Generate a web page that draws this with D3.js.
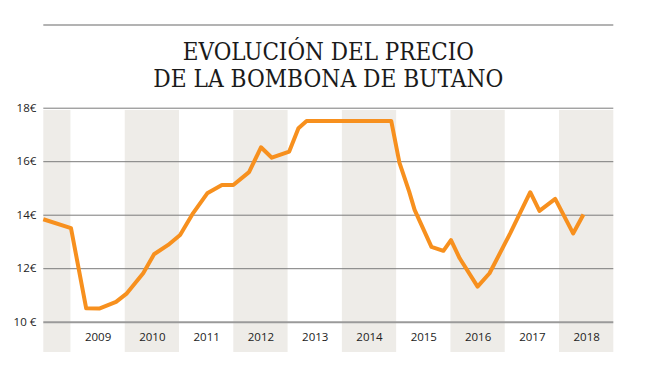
<!DOCTYPE html>
<html><head><meta charset="utf-8">
<script src="https://cdn.jsdelivr.net/npm/d3@7"></script>
<style>
html,body{margin:0;padding:0;background:#fff;}
svg{display:block;}
</style></head>
<body>
<svg id="c" width="650" height="379"></svg>
<script>
// ---- data ----
const titleLines = ["EVOLUCIÓN DEL PRECIO", "DE LA BOMBONA DE BUTANO"];
const fecha = [2008.5, 2009.01, 2009.29, 2009.53, 2009.84, 2010.04, 2010.34, 2010.54, 2010.80, 2011.02,
  2011.26, 2011.52, 2011.79, 2012.0, 2012.29, 2012.51, 2012.71, 2013.03, 2013.20, 2013.35,
  2014.91, 2015.06, 2015.24, 2015.34, 2015.65, 2015.87, 2016.01, 2016.17, 2016.50, 2016.72,
  2017.10, 2017.47, 2017.64, 2017.93, 2018.26, 2018.45];
const precio = [13.83, 13.5, 10.5, 10.49, 10.74, 11.06, 11.81, 12.52, 12.87, 13.24,
  14.06, 14.8, 15.11, 15.11, 15.59, 16.52, 16.13, 16.36, 17.23, 17.5,
  17.5, 15.95, 14.86, 14.18, 12.8, 12.65, 13.05, 12.37, 11.31, 11.81,
  13.3, 14.84, 14.14, 14.59, 13.3, 14.01];
const anios = [2009, 2010, 2011, 2012, 2013, 2014, 2015, 2016, 2017, 2018];
const aniosSombreados = [2008, 2010, 2012, 2014, 2016, 2018];
const yTicks = [10, 12, 14, 16, 18];
const yTickLabels = ["10 €", "12€", "14€", "16€", "18€"];

// ---- layout ----
const svg = d3.select("#c");
const L = 43.3, R = 613.3;
const x = d3.scaleLinear().domain([2008.5, 2019]).range([L, R]);
const y = d3.scaleLinear().domain([10, 18]).range([321.7, 107.7]);

// top rule
svg.append("line").attr("x1", L).attr("x2", R).attr("y1", 25).attr("y2", 25)
  .attr("stroke", "#9a9a9a").attr("stroke-width", 1.5);

// title
const tw = [291, 350];
svg.selectAll("text.title").data(titleLines).join("text")
  .attr("class", "title")
  .attr("x", 328.3).attr("y", (d, i) => i === 0 ? 60 : 86.5)
  .attr("text-anchor", "middle")
  .attr("textLength", (d, i) => tw[i])
  .attr("lengthAdjust", "spacingAndGlyphs")
  .style("font-family", "'DejaVu Serif Condensed','DejaVu Serif',serif")
  .style("font-stretch", "condensed")
  .style("font-weight", "300")
  .style("font-size", "25px")
  .attr("fill", "#1a1a1a")
  .text(d => d);

// shaded bands
svg.append("g").selectAll("rect").data(aniosSombreados).join("rect")
  .attr("x", d => Math.max(x(d), L))
  .attr("width", d => Math.min(x(d + 1), R) - Math.max(x(d), L))
  .attr("y", 110).attr("height", 242)
  .attr("fill", "#eeece8");

// y axis with gridlines
const yAxis = d3.axisLeft(y).tickValues(yTicks)
  .tickFormat((d, i) => yTickLabels[i])
  .tickSizeInner(-(R - L)).tickSizeOuter(0).tickPadding(7);
const gy = svg.append("g").attr("transform", `translate(${L},0)`).call(yAxis);
gy.select(".domain").remove();
gy.selectAll(".tick line").attr("stroke", d => d === 10 ? "#9a9a9a" : "#7a7a7a")
  .attr("stroke-width", d => d === 10 ? 2 : 1);
gy.selectAll(".tick text")
  .style("font-family", "'Open Sans',sans-serif").style("font-size", "11.5px")
  .attr("fill", "#222").attr("dy", "0.3em");

// x axis labels
const xAxis = d3.axisBottom(x).tickValues(anios.map(a => a + 0.5))
  .tickFormat((d, i) => String(anios[i])).tickSize(0).tickPadding(0);
const gx = svg.append("g").attr("transform", `translate(0,337)`).call(xAxis);
gx.select(".domain").remove();
gx.selectAll(".tick text")
  .attr("dy", "0.35em")
  .style("font-family", "'Open Sans',sans-serif").style("font-size", "11.5px")
  .attr("fill", "#222");

// line
const line = d3.line().x((d, i) => x(fecha[i])).y(d => y(d));
svg.append("path").datum(precio)
  .attr("d", line)
  .attr("fill", "none")
  .attr("stroke", "#f7901e")
  .attr("stroke-width", 4)
  .attr("stroke-linejoin", "round")
  .attr("stroke-linecap", "butt");
</script>
</body></html>
